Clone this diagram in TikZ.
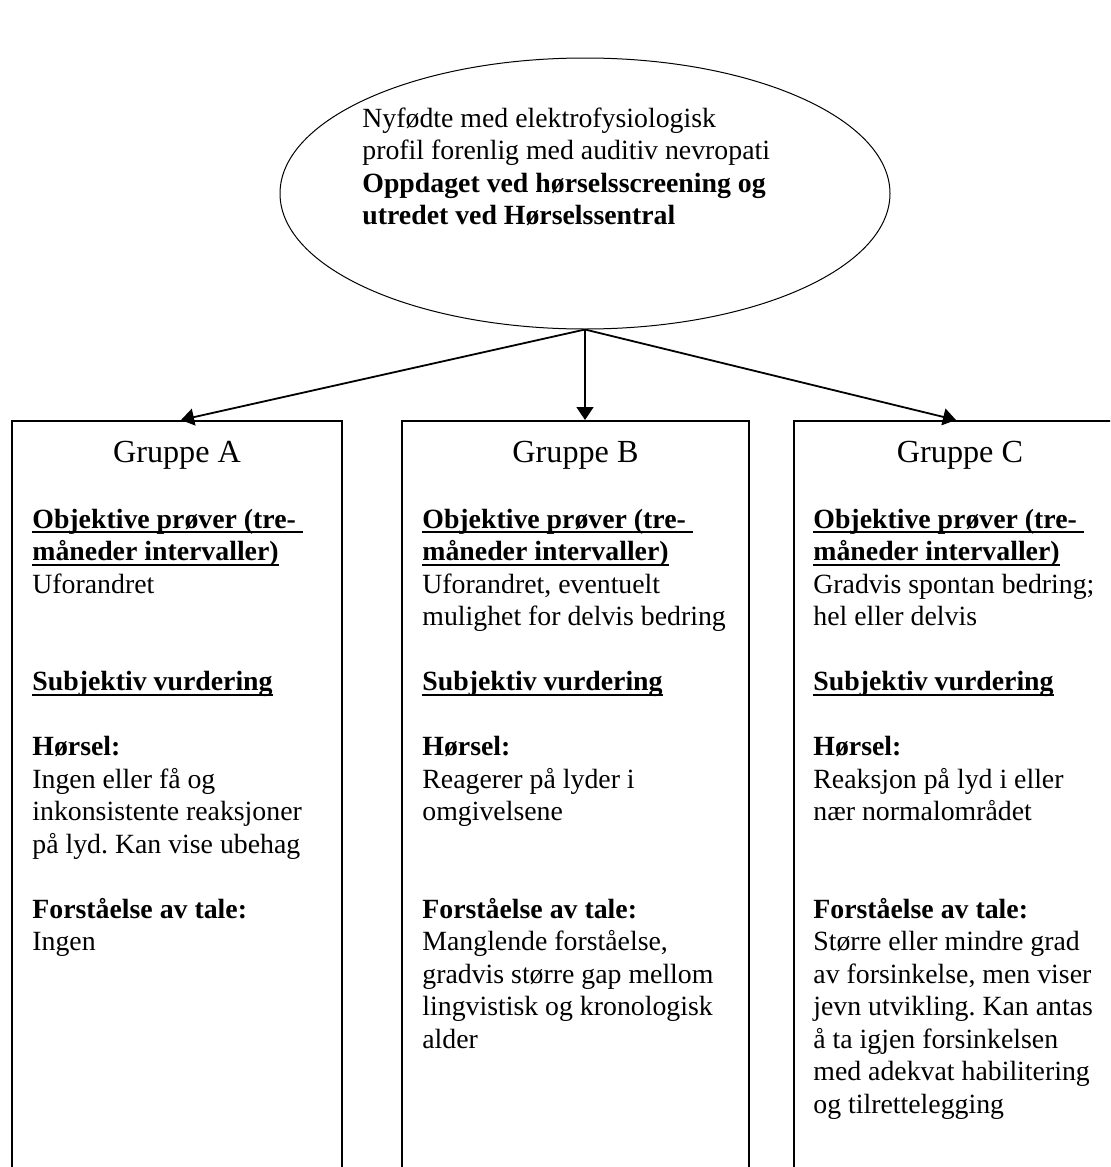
\documentclass[tikz,border=0pt]{standalone}
\usepackage{fontspec}
\setmainfont{Liberation Serif}
\usetikzlibrary{positioning, arrows.meta, shapes.geometric}
\frenchspacing

\newcommand{\ulbox}[1]{\setbox0=\hbox{\textbf{#1}}\rlap{\rule[-2.6pt]{\wd0}{1pt}}\box0}

\begin{document}
\begin{tikzpicture}[
        x=0.5pt, y=-0.5pt,
        grp/.style={rectangle, draw, line width=0.9pt, minimum height=390pt,
                    inner sep=0pt, anchor=north},
        hd/.style={font=\fontsize{16.1}{18}\selectfont, anchor=base, inner sep=0pt},
        txt/.style={anchor=base west, inner sep=0pt,
                    font=\fontsize{13.9}{16.25}\selectfont},
        arr/.style={-{Triangle[length=6.5pt, width=8.5pt]}, line width=0.9pt}
      ]
        \useasboundingbox (0,0) rectangle (1110,1167);
        \clip (0,0) rectangle (1110,1167);
        \node[ellipse, draw, line width=0.5pt, minimum width=305pt, minimum height=135.5pt,
              inner sep=0pt] (root) at (585,193.5) {};
        \node[txt] (rootlbl) at (362,127)
          {\begin{tabular}[t]{@{}l@{}}
           Nyfødte med elektrofysiologisk\\
           profil forenlig med auditiv nevropati\\
           \textbf{Oppdaget ved hørselsscreening og}\\
           \textbf{utredet ved Hørselssentral}
           \end{tabular}};
        \node[grp, minimum width=165pt] (boxA) at (177,420) {};
        \node[grp, minimum width=173.5pt] (boxB) at (575.5,420) {};
        \node[grp, minimum width=166pt] (boxC) at (960,420) {};
        \node[hd] (hdA) at (177,462) {Gruppe A};
        \node[hd] (hdB) at (575.5,462) {Gruppe B};
        \node[hd] (hdC) at (960,462) {Gruppe C};
        \node[txt] (bodyA) at (32,528)
          {\begin{tabular}[t]{@{}l@{}}
           \ulbox{Objektive prøver (tre-\ }\\
           \ulbox{måneder intervaller)}\\
           Uforandret\\[32.5pt]
           \ulbox{Subjektiv vurdering}\\[16.25pt]
           \textbf{Hørsel:}\\
           Ingen eller få og\\
           inkonsistente reaksjoner\\
           på lyd. Kan vise ubehag\\[16.25pt]
           \textbf{Forståelse av tale:}\\
           Ingen
           \end{tabular}};
        \node[txt] (bodyB) at (422,528)
          {\begin{tabular}[t]{@{}l@{}}
           \ulbox{Objektive prøver (tre-\ }\\
           \ulbox{måneder intervaller)}\\
           Uforandret, eventuelt\\
           mulighet for delvis bedring\\[16.25pt]
           \ulbox{Subjektiv vurdering}\\[16.25pt]
           \textbf{Hørsel:}\\
           Reagerer på lyder i\\
           omgivelsene\\[32.5pt]
           \textbf{Forståelse av tale:}\\
           Manglende forståelse,\\
           gradvis større gap mellom\\
           lingvistisk og kronologisk\\
           alder
           \end{tabular}};
        \node[txt] (bodyC) at (813,528)
          {\begin{tabular}[t]{@{}l@{}}
           \ulbox{Objektive prøver (tre-\ }\\
           \ulbox{måneder intervaller)}\\
           Gradvis spontan bedring;\\
           hel eller delvis\\[16.25pt]
           \ulbox{Subjektiv vurdering}\\[16.25pt]
           \textbf{Hørsel:}\\
           Reaksjon på lyd i eller\\
           nær normalområdet\\[32.5pt]
           \textbf{Forståelse av tale:}\\
           Større eller mindre grad\\
           av forsinkelse, men viser\\
           jevn utvikling. Kan antas\\
           å ta igjen forsinkelsen\\
           med adekvat habilitering\\
           og tilrettelegging
           \end{tabular}};
        \draw[arr] (root.south) -- ([xshift=2pt]boxA.north);
        \draw[arr] (root.south) -- (root.south |- boxB.north);
        \draw[arr] (root.south) -- ([xshift=-2pt]boxC.north);
      \end{tikzpicture}
\end{document}
